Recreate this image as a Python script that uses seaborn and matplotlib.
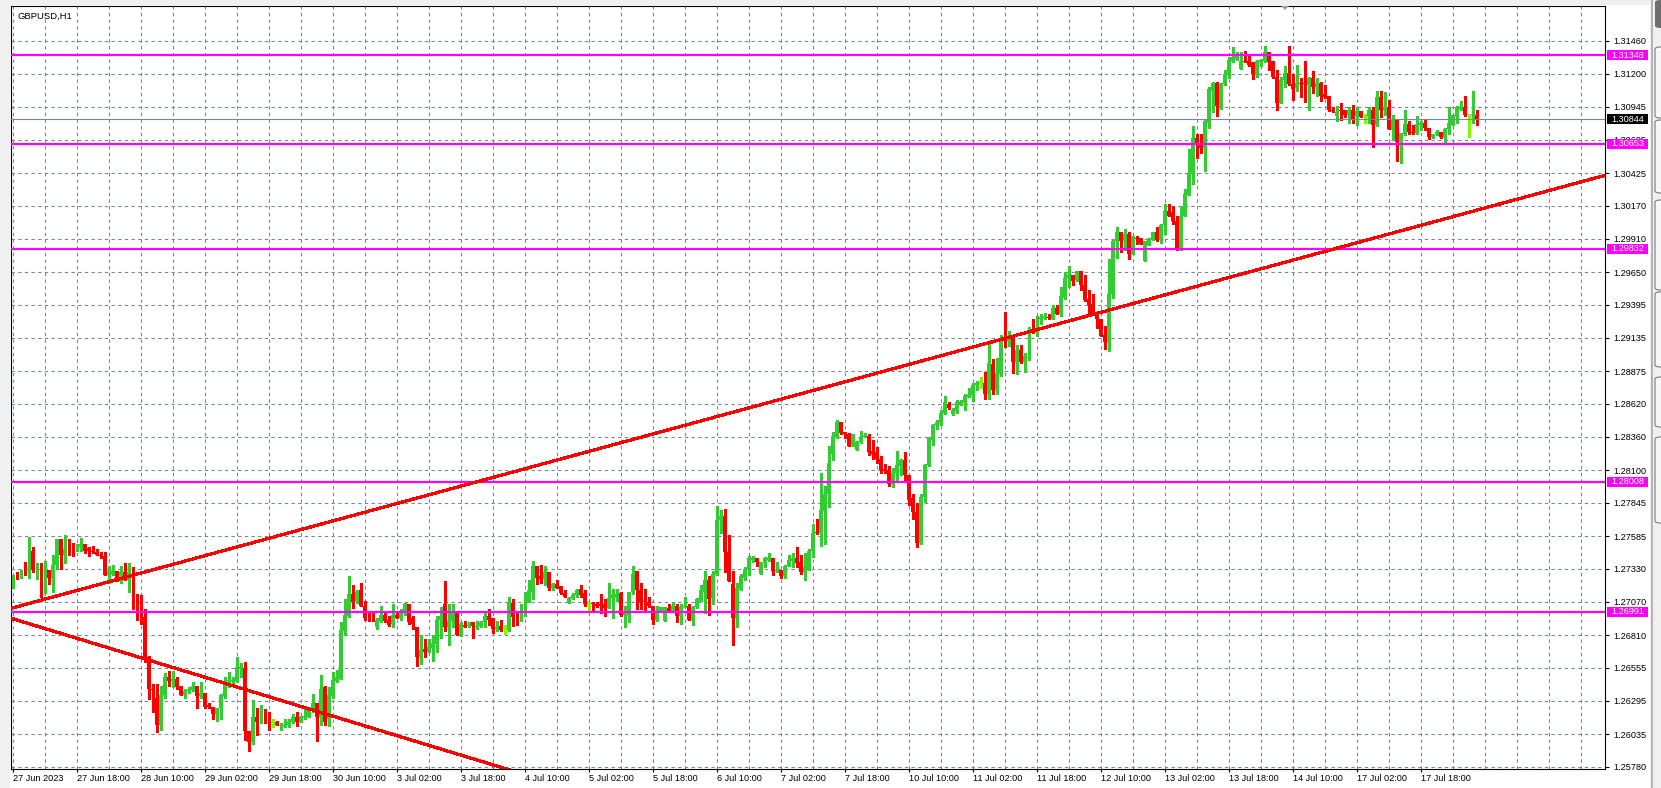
import numpy as np
import matplotlib
matplotlib.use("Agg")
import matplotlib.pyplot as plt
import matplotlib.transforms as mtransforms
from matplotlib.patches import Rectangle, Polygon, FancyBboxPatch
import seaborn as sns

symbol = "GBPUSD,H1"

# hourly candles, pips above 1.25000, first bar = 27 Jun 02:00
open_pips = [
    224, 227, 226, 229, 228, 247, 232, 237, 218, 232, 226, 236, 256, 244, 249, 248, 248, 250, 252, 249,
    247, 246, 244, 243, 228, 229, 231, 224, 230, 224, 230, 211, 196, 195, 164, 139, 132, 111, 134, 148,
    145, 147, 141, 134, 137, 138, 141, 133, 136, 126, 125, 119, 124, 133, 145, 145, 145, 155, 155, 106,
    97, 117, 113, 123, 115, 112, 113, 110, 110, 111, 113, 117, 113, 117, 117, 122, 128, 117, 140, 115,
    133, 145, 147, 184, 196, 213, 208, 216, 204, 199, 199, 187, 192, 197, 193, 190, 197, 194, 198, 205,
    194, 187, 164, 170, 168, 171, 174, 193, 205, 187, 192, 198, 181, 189, 188, 191, 187, 188, 191, 196,
    194, 186, 188, 186, 185, 206, 196, 195, 196, 207, 215, 235, 227, 225, 230, 218, 221, 219, 214, 206,
    210, 212, 217, 214, 205, 206, 205, 205, 205, 202, 210, 211, 214, 197, 197, 215, 231, 216, 208, 207,
    204, 193, 200, 192, 202, 200, 204, 196, 203, 204, 193, 203, 208, 215, 224, 210, 229, 271, 274, 246,
    221, 194, 217, 226, 232, 240, 241, 229, 238, 240, 241, 231, 232, 227, 235, 239, 241, 238, 230, 233,
    247, 262, 261, 278, 291, 323, 336, 348, 340, 338, 329, 326, 332, 336, 337, 325, 324, 319, 311, 310,
    299, 308, 313, 318, 306, 288, 277, 253, 289, 314, 334, 345, 347, 355, 362, 354, 356, 362, 363, 367,
    369, 377, 378, 378, 370, 393, 373, 385, 413, 411, 414, 395, 404, 395, 398, 422, 419, 428, 429, 430,
    428, 437, 432, 445, 460, 463, 459, 466, 455, 444, 440, 432, 428, 416, 410, 448, 489, 496, 489, 495,
    479, 492, 492, 474, 486, 490, 496, 490, 502, 513, 512, 505, 482, 509, 525, 542, 570, 566, 562, 582,
    607, 613, 594, 612, 620, 630, 632, 624, 630, 630, 629, 619, 629, 630, 637, 630, 618, 597, 615, 621,
    612, 609, 613, 613, 611, 617, 610, 613, 604, 603, 592, 587, 592, 592, 588, 592, 587, 591, 587, 586,
    592, 580, 602, 592, 594, 576, 584, 567, 573, 581, 575, 574, 580, 582, 578, 571, 573, 575, 571, 577,
    580, 587, 593, 594, 588, 588, 588,
]
high_pips = [
    228, 230, 232, 238, 258, 250, 237, 237, 239, 232, 244, 256, 256, 259, 256, 253, 252, 257, 252, 250,
    251, 248, 246, 246, 235, 236, 231, 235, 237, 237, 234, 213, 212, 201, 165, 143, 143, 141, 151, 153,
    153, 148, 141, 139, 140, 144, 141, 144, 136, 128, 125, 124, 135, 148, 152, 148, 164, 159, 160, 106,
    130, 124, 126, 123, 121, 115, 114, 112, 115, 115, 119, 121, 118, 123, 125, 135, 128, 150, 141, 140,
    152, 154, 191, 209, 227, 220, 216, 222, 208, 199, 200, 194, 204, 198, 196, 205, 200, 201, 206, 205,
    196, 187, 181, 178, 178, 181, 196, 203, 223, 205, 205, 200, 191, 192, 191, 191, 192, 192, 199, 201,
    194, 192, 193, 189, 211, 209, 200, 205, 215, 224, 239, 235, 236, 235, 230, 222, 224, 219, 216, 211,
    214, 217, 220, 216, 207, 207, 207, 213, 209, 222, 217, 217, 215, 204, 215, 235, 231, 222, 217, 211,
    204, 204, 203, 203, 205, 207, 205, 205, 211, 205, 204, 210, 220, 231, 227, 231, 282, 279, 280, 259,
    231, 222, 229, 234, 243, 243, 241, 238, 242, 245, 241, 238, 232, 236, 244, 245, 250, 244, 245, 248,
    268, 272, 308, 298, 329, 340, 349, 348, 340, 339, 338, 333, 341, 339, 338, 334, 328, 321, 315, 313,
    312, 325, 319, 324, 306, 291, 284, 291, 315, 336, 346, 349, 357, 368, 363, 359, 365, 365, 370, 374,
    378, 380, 383, 387, 410, 397, 398, 416, 434, 419, 414, 408, 408, 402, 422, 428, 431, 432, 433, 432,
    439, 439, 453, 465, 470, 463, 466, 466, 463, 451, 448, 433, 428, 423, 475, 490, 500, 496, 499, 496,
    493, 493, 492, 489, 492, 496, 500, 503, 518, 518, 517, 509, 517, 530, 561, 579, 573, 573, 584, 610,
    614, 614, 613, 623, 633, 641, 637, 637, 638, 634, 629, 631, 632, 642, 637, 630, 623, 618, 626, 642,
    620, 627, 617, 630, 618, 622, 617, 614, 611, 603, 594, 595, 597, 592, 594, 596, 594, 591, 589, 594,
    594, 607, 607, 606, 600, 588, 585, 574, 592, 583, 580, 587, 583, 584, 578, 573, 576, 575, 578, 594,
    588, 595, 599, 603, 588, 607, 592,
]
low_pips = [
    218, 225, 226, 228, 226, 230, 225, 211, 214, 221, 215, 233, 233, 237, 244, 243, 247, 247, 245, 243,
    245, 244, 241, 228, 222, 228, 223, 222, 224, 215, 201, 193, 190, 160, 131, 121, 105, 107, 132, 141,
    140, 139, 134, 132, 136, 137, 124, 132, 124, 124, 115, 114, 115, 132, 140, 141, 144, 148, 99, 90,
    96, 103, 112, 112, 107, 109, 111, 107, 109, 109, 112, 110, 113, 115, 117, 121, 98, 111, 111, 110,
    132, 144, 147, 181, 195, 202, 206, 204, 193, 192, 192, 186, 191, 191, 188, 187, 194, 193, 197, 190,
    186, 157, 158, 164, 168, 161, 168, 179, 184, 173, 187, 181, 180, 187, 187, 179, 186, 187, 187, 189,
    183, 184, 184, 182, 184, 188, 189, 192, 196, 207, 209, 221, 222, 220, 216, 216, 218, 213, 211, 206,
    209, 211, 211, 204, 200, 199, 203, 198, 196, 202, 194, 208, 196, 187, 191, 213, 201, 201, 200, 203,
    190, 192, 199, 192, 199, 199, 191, 190, 203, 193, 189, 202, 208, 198, 197, 205, 228, 261, 230, 223,
    173, 187, 216, 224, 228, 238, 235, 229, 234, 239, 228, 230, 226, 226, 235, 234, 234, 229, 224, 232,
    242, 260, 251, 252, 281, 318, 335, 338, 335, 329, 329, 326, 331, 336, 322, 319, 316, 308, 308, 298,
    297, 301, 306, 302, 283, 272, 250, 252, 285, 313, 330, 342, 345, 354, 358, 353, 355, 361, 357, 367,
    364, 373, 374, 366, 366, 370, 370, 384, 406, 407, 386, 385, 394, 387, 396, 417, 415, 424, 428, 428,
    428, 432, 431, 444, 453, 455, 458, 451, 442, 433, 432, 421, 415, 405, 403, 445, 476, 481, 482, 475,
    479, 487, 487, 474, 486, 490, 489, 488, 495, 509, 503, 482, 482, 509, 525, 534, 554, 558, 544, 578,
    590, 587, 593, 611, 617, 629, 631, 624, 629, 626, 616, 618, 626, 629, 623, 617, 592, 597, 610, 611,
    600, 607, 602, 598, 592, 605, 603, 599, 601, 591, 590, 583, 584, 586, 582, 582, 580, 586, 582, 582,
    563, 579, 586, 588, 577, 569, 552, 550, 572, 573, 573, 573, 576, 576, 569, 570, 572, 570, 567, 573,
    580, 582, 592, 587, 571, 582, 580,
]
close_pips = [
    228, 226, 228, 228, 247, 232, 236, 217, 233, 226, 236, 256, 244, 248, 248, 247, 250, 252, 247, 247,
    246, 244, 243, 228, 231, 231, 224, 230, 224, 230, 211, 195, 194, 162, 139, 138, 111, 134, 148, 145,
    147, 140, 134, 137, 138, 141, 133, 136, 125, 125, 119, 124, 134, 145, 146, 146, 156, 156, 106, 97,
    117, 113, 123, 113, 111, 112, 111, 111, 111, 113, 117, 113, 117, 118, 123, 128, 117, 139, 113, 134,
    146, 148, 185, 197, 213, 207, 215, 204, 194, 198, 198, 193, 197, 192, 189, 197, 194, 200, 205, 191,
    190, 164, 169, 168, 172, 175, 193, 196, 187, 192, 198, 181, 190, 187, 189, 188, 188, 191, 196, 193,
    186, 187, 185, 186, 206, 195, 195, 197, 208, 216, 235, 226, 225, 230, 218, 221, 218, 214, 211, 210,
    212, 216, 212, 205, 205, 205, 204, 204, 202, 210, 212, 213, 197, 198, 215, 229, 216, 207, 207, 204,
    193, 200, 203, 203, 200, 204, 196, 203, 204, 193, 203, 209, 216, 224, 209, 229, 271, 274, 246, 223,
    194, 218, 227, 233, 241, 241, 238, 238, 241, 241, 231, 232, 227, 235, 240, 241, 237, 230, 234, 247,
    261, 261, 279, 291, 316, 337, 348, 339, 338, 329, 338, 332, 336, 337, 324, 323, 319, 310, 309, 299,
    308, 314, 318, 306, 287, 277, 253, 289, 314, 335, 345, 348, 355, 363, 359, 357, 363, 363, 368, 369,
    377, 378, 378, 370, 394, 373, 386, 412, 411, 414, 395, 404, 395, 399, 422, 418, 429, 430, 430, 429,
    437, 432, 446, 460, 463, 458, 466, 455, 443, 439, 432, 428, 415, 410, 448, 489, 496, 489, 495, 479,
    493, 491, 487, 489, 492, 496, 490, 502, 513, 509, 505, 482, 509, 526, 542, 570, 565, 562, 583, 608,
    613, 595, 612, 620, 631, 633, 635, 630, 629, 627, 620, 630, 631, 637, 629, 618, 597, 615, 621, 612,
    608, 613, 612, 612, 617, 610, 613, 603, 602, 592, 591, 590, 591, 588, 592, 584, 591, 586, 587, 592,
    580, 602, 592, 594, 577, 584, 567, 574, 581, 575, 574, 581, 582, 578, 571, 573, 575, 571, 577, 582,
    588, 594, 594, 588, 588, 589, 584,
]

time_labels = [
    "27 Jun 2023", "27 Jun 18:00", "28 Jun 10:00", "29 Jun 02:00", "29 Jun 18:00",
    "30 Jun 10:00", "3 Jul 02:00", "3 Jul 18:00", "4 Jul 10:00", "5 Jul 02:00",
    "5 Jul 18:00", "6 Jul 10:00", "7 Jul 02:00", "7 Jul 18:00", "10 Jul 10:00",
    "11 Jul 02:00", "11 Jul 18:00", "12 Jul 10:00", "13 Jul 02:00", "13 Jul 18:00",
    "14 Jul 10:00", "17 Jul 02:00", "17 Jul 18:00",
]
price_ticks = [
    1.31460, 1.31200, 1.30945, 1.30685, 1.30425, 1.30170, 1.29910, 1.29650,
    1.29395, 1.29135, 1.28875, 1.28620, 1.28360, 1.28100, 1.27845, 1.27585,
    1.27330, 1.27070, 1.26810, 1.26555, 1.26295, 1.26035, 1.25780,
]
levels = [1.31348, 1.30653, 1.29832, 1.28008, 1.26991]
last_price = 1.30844

# trend lines as (bar, price) anchors
trend_up = [(-0.5, 1.27019), (398, 1.30407)]
trend_down = [(-0.75, 1.26944), (124.75, 1.25749)]

assert len(open_pips) == len(high_pips) == len(low_pips) == len(close_pips)

BULL = "#32CD32"
BEAR = "#FF0000"
DOJI = "#7CFC00"
GRID = "#778899"
MAGENTA = "#FF00FF"

sns.set_theme(style="white")
plt.rcParams["font.family"] = ["Liberation Sans", "DejaVu Sans"]

W, H = 1661, 788
fig = plt.figure(figsize=(W / 100, H / 100), dpi=100)
fig.patch.set_facecolor("white")
ax = fig.add_axes([11 / W, 19 / H, 1594 / W, 763 / H])
ax.set_facecolor("white")

# candles
o = 1.25 + np.array(open_pips) / 10000
hi = 1.25 + np.array(high_pips) / 10000
lo = 1.25 + np.array(low_pips) / 10000
c = 1.25 + np.array(close_pips) / 10000
x = np.arange(len(c))
colors = np.where(c > o, BULL, np.where(c < o, BEAR, DOJI))
hi = np.maximum(hi, np.maximum(o, c))
lo = np.minimum(lo, np.minimum(o, c))

ax.vlines(x, lo, hi, colors=colors, lw=0.8, antialiased=False, zorder=3)
body_lo = np.minimum(o, c)
body_h = np.maximum(np.abs(c - o), 0.00008)
ax.bar(x, body_h, bottom=body_lo, width=0.75, color=colors, lw=0,
       antialiased=False, zorder=4)

# support / resistance levels and current price
for lvl in levels:
    ax.axhline(lvl, color=MAGENTA, lw=1.6, zorder=6)
ax.axhline(last_price, color=GRID, lw=0.8, zorder=5)

# trend lines
sns.lineplot(x=[p[0] for p in trend_up], y=[p[1] for p in trend_up], ax=ax,
             color="red", lw=1.6, zorder=7, antialiased=False)
sns.lineplot(x=[p[0] for p in trend_down], y=[p[1] for p in trend_down], ax=ax,
             color="red", lw=1.6, zorder=7, antialiased=False)

ax.set_xlim(-0.5, 398)
ax.set_ylim(1.25762, 1.31732)
ax.set_xlabel("")
ax.set_ylabel("")

# axes, ticks, grid
label_bars = np.arange(len(time_labels)) * 16
ax.set_xticks(label_bars)
ax.set_xticklabels(time_labels, ha="left")
ax.set_xticks(np.arange(0, 399, 8), minor=True)
ax.set_yticks(price_ticks)
ax.set_yticklabels([f"{p:.5f}" for p in price_ticks])
ax.yaxis.tick_right()
ax.tick_params(axis="y", length=3, width=0.8, pad=3, labelsize=6.6, colors="black",
               direction="out", right=True, left=False)
ax.tick_params(axis="x", which="major", length=2, width=0.8, pad=1.5, labelsize=6.6,
               colors="black", direction="out", bottom=True)
ax.tick_params(axis="x", which="minor", length=0)
ax.set_axisbelow(True)
ax.grid(which="both", axis="x", color=GRID, ls=(0, (3, 3)), lw=0.8)
ax.grid(which="major", axis="y", color=GRID, ls=(0, (3, 3)), lw=0.8)
for sp in ax.spines.values():
    sp.set_color("black")
    sp.set_linewidth(0.8)

# price tags on the right scale
trans = mtransforms.blended_transform_factory(ax.transAxes, ax.transData)
box_x = (1607 - 11) / 1594
box_w = 41 / 1594
half = 5 / 1.278 / 10000
for val, fc in [(lvl, MAGENTA) for lvl in levels] + [(last_price, "black")]:
    ax.add_patch(Rectangle((box_x, val - half), box_w, 2 * half, transform=trans,
                           fc=fc, ec="none", clip_on=False, zorder=8))
    ax.text(box_x + 4 / 1594, val, f"{val:.5f}", transform=trans, color="white",
            fontsize=6.6, ha="left", va="center", clip_on=False, zorder=9)

# symbol caption and chart shift marker
fig.text(17 / W, 1 - 16 / H, symbol, fontsize=6.8, ha="left", va="center", color="black")
fig.patches.append(Polygon([[1281 / W, 1 - 6 / H], [1289 / W, 1 - 6 / H], [1285 / W, 1 - 10 / H]],
                           closed=True, transform=fig.transFigure, fc="#A0A0A0", ec="none"))

# window chrome: left strip, top strip, right docked tabs
fig.patches.append(Rectangle((0, 0), 10 / W, 1, transform=fig.transFigure,
                             fc="#F0F0F0", ec="none", zorder=-1))
fig.patches.append(Rectangle((0, 1 - 5 / H), 1, 5 / H, transform=fig.transFigure,
                             fc="#F0F0F0", ec="none", zorder=-1))
fig.patches.append(Rectangle((1650 / W, 0), 11 / W, 1, transform=fig.transFigure,
                             fc="#F0F0F0", ec="none", zorder=-1))
fig.patches.append(Rectangle((1651 / W, 0), 2 / W, 1, transform=fig.transFigure,
                             fc="#B4B4B4", ec="none", zorder=0))
fig.patches.append(FancyBboxPatch((1655 / W, 1 - 28 / H), 10 / W, 28 / H,
                                  boxstyle="round,pad=0,rounding_size=0.003",
                                  transform=fig.transFigure, fc="#6E6E6E", ec="none", zorder=1))
for top, bot in [(47, 118), (120, 193), (200, 290), (292, 367), (377, 427), (437, 523)]:
    fig.patches.append(FancyBboxPatch((1655 / W, 1 - bot / H), 10 / W, (bot - top) / H,
                                      boxstyle="round,pad=0,rounding_size=0.003",
                                      transform=fig.transFigure, fc="#F7F7F7",
                                      ec="#7A7A7A", lw=0.8, zorder=1))

fig.savefig("out.png", dpi=100)
